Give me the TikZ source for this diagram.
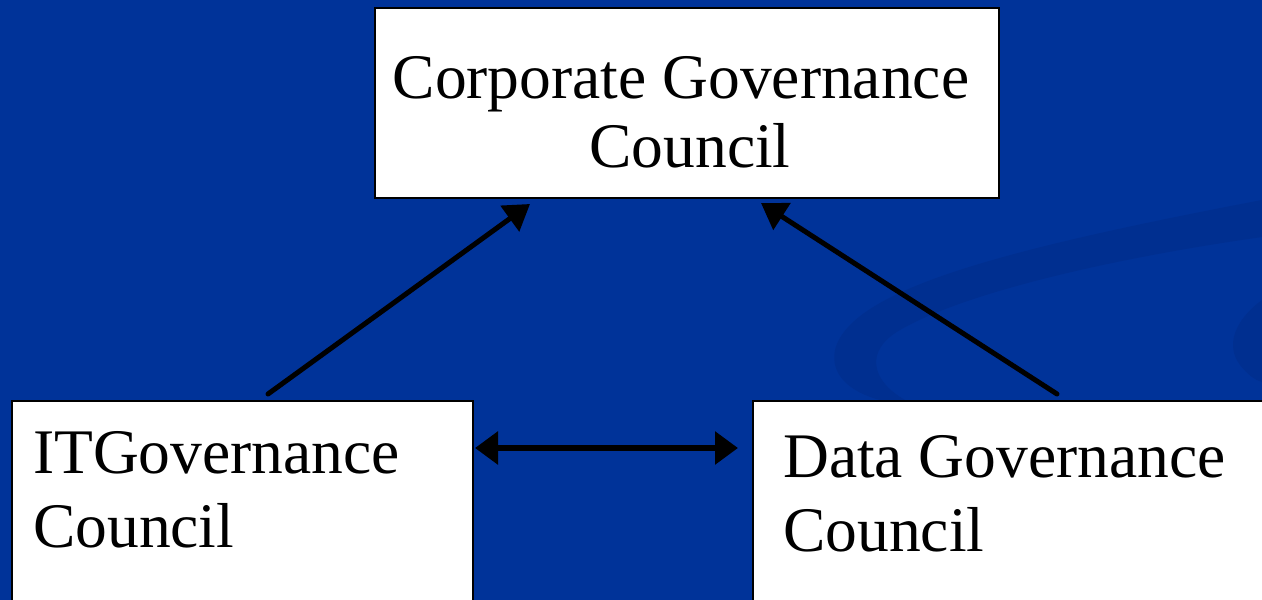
\documentclass[tikz,border=0pt]{standalone}
\usepackage{fontspec}
\setmainfont{Liberation Serif}
\usetikzlibrary{arrows.meta,calc}
\definecolor{slideblue}{RGB}{0,51,153}
\definecolor{swirlblue}{RGB}{0,47,144}

\begin{document}
\begin{tikzpicture}[x=1pt, y=-1pt,
	box/.style={draw=black, line width=2pt, fill=white, anchor=north west, inner sep=0pt},
	lbl/.style={font=\fontsize{63.5}{74}\selectfont, inner sep=0pt, align=flush left},
	link/.style={line width=5pt, line cap=round, -{Triangle[length=25pt,width=31pt]}},
	both/.style={line width=6pt, {Triangle[length=23pt,width=32pt]}-{Triangle[length=23pt,width=32pt]}}]
	
	% Background
	\fill[slideblue] (0,0) rectangle (1262,600);
	\clip (0,0) rectangle (1262,600);
	\fill[swirlblue] (1262,200) .. controls (1000,250) and (850,290) .. (835,350) .. controls (830,375) and (850,392) .. (880,400) -- (905,400) .. controls (870,380) and (865,350) .. (900,330) .. controls (960,295) and (1100,260) .. (1262,237) -- cycle;
	\fill[swirlblue] (1262,300) .. controls (1235,320) and (1225,345) .. (1240,365) .. controls (1248,375) and (1255,380) .. (1262,382) -- cycle;
	
	% Boxes
	\node[box, minimum width=624, minimum height=190] (cgc) at (374,7) {};
	\node[box, minimum width=461, minimum height=230] (itgc) at (11,400) {};
	\node[box, minimum width=530, minimum height=230] (dgc) at (752,400) {};
	
	% Labels
	\node[lbl, font=\fontsize{63.5}{69}\selectfont, text width=620, align=flush center, anchor=base] (cgctext) at (690,98) {Corporate Governance\hspace*{18pt}\mbox{}\\Council};
	\node[lbl, text width=430, anchor=base west] (itgctext) at (33,473) {ITGovernance\\Council};
	\node[lbl, text width=470, anchor=base west] (dgctext) at (783,477) {Data Governance\\Council};
	
	% Connections
	\draw[link] ($(itgc.north west)+(257,-6)$) -- ($(cgc.south west)+(156,5)$);
	\draw[link] ($(dgc.north west)+(305,-6)$) -- ($(cgc.south east)+(-239,4)$);
	\draw[both] ($(itgc.north east)+(1,48)$) -- ($(dgc.north west)+(-14,48)$);
	
\end{tikzpicture}
\end{document}
